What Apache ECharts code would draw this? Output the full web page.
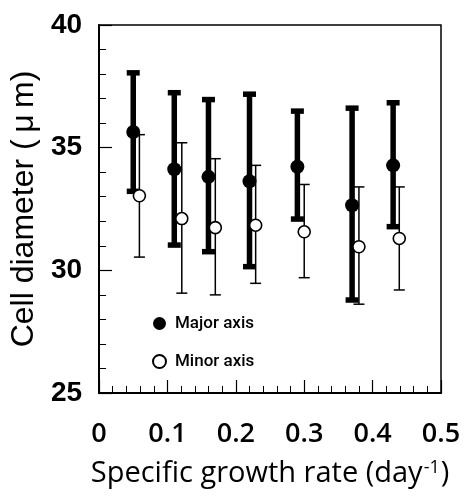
<!DOCTYPE html>
<html>
<head>
<meta charset="utf-8">
<script src="https://cdn.jsdelivr.net/npm/echarts@6/dist/echarts.min.js"></script>
<style>
  html, body { margin: 0; padding: 0; background: #fff; }
  #chart { width: 470px; height: 502px; }
</style>
</head>
<body>
<div id="chart"></div>
<script>
// x ticks and y ticks
const xTicks = [0, 0.1, 0.2, 0.3, 0.4, 0.5];
const yTicks = [25, 30, 35, 40];

// major axis (filled) - mean and error bar ends
const majorRate = [0.05, 0.11, 0.16, 0.22, 0.29, 0.37, 0.43];
const majorMean = [35.64, 34.12, 33.81, 33.63, 34.22, 32.65, 34.28];
const majorUpper = [38.05, 37.24, 36.96, 37.18, 36.49, 36.61, 36.83];
const majorLower = [33.22, 31.03, 30.76, 30.15, 32.09, 28.79, 31.78];

// minor axis (open)
const minorRate = [0.059, 0.121, 0.170, 0.229, 0.300, 0.380, 0.439];
const minorMean = [33.04, 32.11, 31.74, 31.84, 31.57, 30.96, 31.30];
const minorUpper = [35.53, 35.20, 34.55, 34.28, 33.50, 33.40, 33.40];
const minorLower = [30.54, 29.07, 29.00, 29.47, 29.70, 28.62, 29.20];

var chart = echarts.init(document.getElementById('chart'));

function errBar(lineW, capHalf) {
  return function (params, api) {
    var x = api.value(0);
    var top = api.coord([x, api.value(2)]);
    var bot = api.coord([x, api.value(1)]);
    var st = { stroke: '#000', lineWidth: lineW };
    return {
      type: 'group',
      children: [
        { type: 'line', shape: { x1: top[0], y1: top[1], x2: bot[0], y2: bot[1] }, style: st },
        { type: 'line', shape: { x1: top[0] - capHalf, y1: top[1], x2: top[0] + capHalf, y2: top[1] }, style: st },
        { type: 'line', shape: { x1: bot[0] - capHalf, y1: bot[1], x2: bot[0] + capHalf, y2: bot[1] }, style: st }
      ]
    };
  };
}

chart.setOption({
  animation: false,
  backgroundColor: '#fff',
  grid: {
    left: 98, right: 29, top: 25, bottom: 109,
    show: true, borderColor: '#000', borderWidth: 1.5
  },
  legend: {
    data: ['Major axis', 'Minor axis'],
    orient: 'vertical',
    left: 147, top: 310,
    itemWidth: 13, itemHeight: 13,
    itemGap: 21,
    selectedMode: false,
    textStyle: {
      fontFamily: 'Roboto', fontSize: 17, fontWeight: 500,
      color: '#000', padding: [0, 0, 0, 4]
    }
  },
  xAxis: {
    type: 'value',
    min: 0, max: 0.5, interval: 0.1,
    splitLine: { show: false },
    axisLine: { lineStyle: { color: '#000', width: 2 } },
    axisTick: { inside: true, length: 13, lineStyle: { color: '#000', width: 1.2 } },
    minorTick: { show: true, splitNumber: 5, length: 7, lineStyle: { color: '#000', width: 1 } },
    axisLabel: {
      margin: 28, color: '#000', fontSize: 27, fontFamily: 'Open Sans', fontWeight: 600,
      formatter: function (v) { return xTicks.indexOf(Math.round(v * 10) / 10) >= 0 ? String(Math.round(v * 10) / 10) : ''; }
    },
    name: 'Specific growth rate (day{sup|-1})',
    nameLocation: 'middle',
    nameGap: 66,
    nameTextStyle: {
      color: '#000', fontSize: 29, fontFamily: 'Open Sans', fontWeight: 500,
      rich: { sup: { fontSize: 18, fontFamily: 'Open Sans', fontWeight: 500, color: '#000', verticalAlign: 'top', padding: [0, 1, 12, 1] } }
    }
  },
  yAxis: {
    type: 'value',
    min: 25, max: 40, interval: 5,
    splitLine: { show: false },
    axisLine: { lineStyle: { color: '#000', width: 2 } },
    axisTick: { inside: true, length: 13, lineStyle: { color: '#000', width: 1.2 } },
    minorTick: { show: true, splitNumber: 5, length: 7, lineStyle: { color: '#000', width: 1 } },
    axisLabel: {
      margin: 17, color: '#000', fontSize: 28, fontFamily: 'Liberation Sans', fontWeight: 'bold',
      formatter: function (v) { return yTicks.indexOf(v) >= 0 ? String(v) : ''; }
    },
    name: 'Cell diameter (\u2009\u03bc\u2009m)',
    nameLocation: 'middle',
    nameGap: 56,
    nameTextStyle: { color: '#000', fontSize: 32, fontFamily: 'Liberation Sans' }
  },
  series: [
    {
      type: 'custom',
      name: 'majorErr',
      z: 1,
      renderItem: errBar(5.5, 6.5),
      encode: { x: 0, y: [1, 2] },
      data: majorRate.map(function (x, i) { return [x, majorLower[i], majorUpper[i]]; })
    },
    {
      type: 'scatter',
      name: 'Major axis',
      z: 2,
      symbol: 'circle',
      symbolSize: 14,
      itemStyle: { color: '#000', opacity: 1 },
      data: majorRate.map(function (x, i) { return [x, majorMean[i]]; })
    },
    {
      type: 'custom',
      name: 'minorErr',
      z: 3,
      renderItem: errBar(1.5, 5.5),
      encode: { x: 0, y: [1, 2] },
      data: minorRate.map(function (x, i) { return [x, minorLower[i], minorUpper[i]]; })
    },
    {
      type: 'scatter',
      name: 'Minor axis',
      z: 4,
      symbol: 'circle',
      symbolSize: 12,
      itemStyle: { color: '#fff', borderColor: '#000', borderWidth: 1.6, opacity: 1 },
      data: minorRate.map(function (x, i) { return [x, minorMean[i]]; })
    }
  ]
});
</script>
</body>
</html>
